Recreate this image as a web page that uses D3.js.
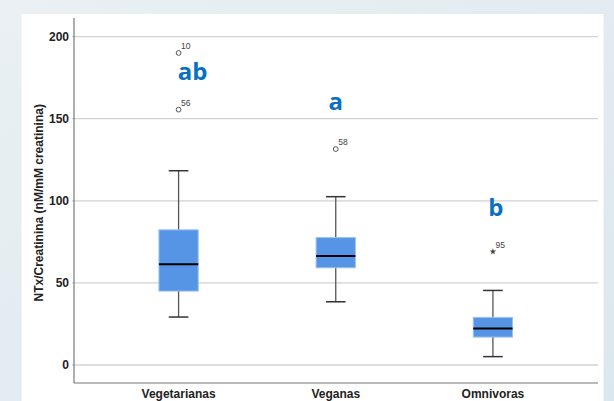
<!DOCTYPE html>
<html>
<head>
<meta charset="utf-8">
<script src="https://cdn.jsdelivr.net/npm/d3@7/dist/d3.min.js"></script>
<style>
  html, body { margin: 0; padding: 0; }
  body { width: 614px; height: 401px; overflow: hidden; }
</style>
</head>
<body>
<svg id="chart" width="614" height="401"></svg>
<script>
// ---- data ----
const categories = ["Vegetarianas", "Veganas", "Omnivoras"];
const whiskerLow  = [29.2, 38.5, 5.1];
const q1          = [45.0, 59.2, 17.0];
const median      = [61.4, 66.3, 22.3];
const q3          = [82.3, 77.6, 29.0];
const whiskerHigh = [118.3, 102.5, 45.4];

const outlierCats   = ["Vegetarianas", "Vegetarianas", "Veganas", "Omnivoras"];
const outlierValues = [190, 155.5, 131.5, 69];
const outlierIds    = ["10", "56", "58", "95"];
const outlierKinds  = ["circle", "circle", "circle", "star"];

const groupLetters      = ["ab", "a", "b"];
const groupLetterValues = [173.5, 155.3, 90.7];

const yTicks = [0, 50, 100, 150, 200];
const yTitle = "NTx/Creatinina (nM/mM creatinina)";

// ---- layout ----
const svg = d3.select("#chart");
const W = 614, H = 401;

const defs = svg.append("defs");
const grad = defs.append("linearGradient").attr("id", "bg").attr("x1", 0).attr("y1", 0).attr("x2", 1).attr("y2", 1);
grad.append("stop").attr("offset", "0%").attr("stop-color", "#eaf0f3");
grad.append("stop").attr("offset", "100%").attr("stop-color", "#dbe7ee");
svg.append("rect").attr("width", W).attr("height", H).attr("fill", "url(#bg)");
svg.append("rect").attr("x", 21.5).attr("y", 14).attr("width", 582).attr("height", H - 14).attr("fill", "#ffffff");

const plotLeft = 74, plotRight = 598, plotTop = 18, plotBottom = 383;

const y = d3.scaleLinear().domain([-10.96, 211.3]).range([plotBottom, plotTop]);
const x = d3.scaleBand().domain(categories).range([100, 571.5]).padding(0);
const cx = c => x(c) + x.bandwidth() / 2;
const boxW = x.bandwidth() * 0.25;
const capW = boxW * 0.5;

// gridlines
svg.append("g").selectAll("line").data(yTicks).join("line")
  .attr("x1", plotLeft - 2).attr("x2", plotRight)
  .attr("y1", d => y(d)).attr("y2", d => y(d))
  .attr("stroke", "#d2d2d2").attr("stroke-width", 1.3);

// y axis
const yAxis = d3.axisLeft(y).tickValues(yTicks).tickSize(0).tickPadding(5);
const gy = svg.append("g").attr("transform", `translate(${plotLeft},0)`).call(yAxis);
gy.select(".domain").remove();
gy.selectAll("text")
  .attr("font-family", "'Liberation Sans Narrow', 'Liberation Sans', Arial, sans-serif")
  .attr("font-weight", "bold").attr("font-size", 12).attr("fill", "#222");

svg.append("line").attr("x1", plotLeft).attr("x2", plotLeft).attr("y1", plotTop).attr("y2", plotBottom)
  .attr("stroke", "#777").attr("stroke-width", 1.2);

// x axis
const xAxis = d3.axisBottom(x).tickSize(0).tickPadding(6);
const gx = svg.append("g").attr("transform", `translate(0,${plotBottom})`).call(xAxis);
gx.select(".domain").remove();
gx.selectAll("text")
  .attr("font-family", "'Liberation Sans Narrow', 'Liberation Sans', Arial, sans-serif")
  .attr("font-weight", "bold").attr("font-size", 12).attr("fill", "#222");
svg.append("line").attr("x1", plotLeft).attr("x2", plotRight).attr("y1", plotBottom).attr("y2", plotBottom)
  .attr("stroke", "#777").attr("stroke-width", 1.2);

// y title
svg.append("text")
  .attr("transform", `translate(43,${(y(0) + y(200)) / 2 + 2}) rotate(-90)`)
  .attr("text-anchor", "middle")
  .attr("font-family", "'Liberation Sans', Arial, sans-serif")
  .attr("font-weight", "bold").attr("font-size", 12).attr("fill", "#222")
  .text(yTitle);

// boxes
const boxes = categories.map((c, i) => ({ c, lo: whiskerLow[i], q1: q1[i], med: median[i], q3: q3[i], hi: whiskerHigh[i] }));
const gb = svg.append("g");
gb.selectAll("line.stem").data(boxes).join("line").attr("class", "stem")
  .attr("x1", d => cx(d.c)).attr("x2", d => cx(d.c))
  .attr("y1", d => y(d.hi)).attr("y2", d => y(d.lo))
  .attr("stroke", "#555").attr("stroke-width", 1.3);
["hi", "lo"].forEach(k => {
  gb.selectAll("line.cap" + k).data(boxes).join("line").attr("class", "cap" + k)
    .attr("x1", d => cx(d.c) - capW / 2).attr("x2", d => cx(d.c) + capW / 2)
    .attr("y1", d => y(d[k])).attr("y2", d => y(d[k]))
    .attr("stroke", "#333").attr("stroke-width", 1.5);
});
gb.selectAll("rect").data(boxes).join("rect")
  .attr("x", d => cx(d.c) - boxW / 2).attr("width", boxW)
  .attr("y", d => y(d.q3)).attr("height", d => y(d.q1) - y(d.q3))
  .attr("fill", "#5695e5").attr("stroke", "#9cc2f0").attr("stroke-width", 1);
gb.selectAll("line.med").data(boxes).join("line").attr("class", "med")
  .attr("x1", d => cx(d.c) - boxW / 2).attr("x2", d => cx(d.c) + boxW / 2)
  .attr("y1", d => y(d.med)).attr("y2", d => y(d.med))
  .attr("stroke", "#000").attr("stroke-width", 2);

// outliers
const outs = outlierValues.map((v, i) => ({ c: outlierCats[i], v, id: outlierIds[i], k: outlierKinds[i] }));
const go = svg.append("g");
go.selectAll("circle").data(outs.filter(d => d.k === "circle")).join("circle")
  .attr("cx", d => cx(d.c)).attr("cy", d => y(d.v)).attr("r", 2.4)
  .attr("fill", "none").attr("stroke", "#555").attr("stroke-width", 1);
go.selectAll("path").data(outs.filter(d => d.k === "star")).join("path")
  .attr("transform", d => `translate(${cx(d.c)},${y(d.v)})`)
  .attr("d", d3.symbol().type(d3.symbolStar).size(14))
  .attr("fill", "#444");
go.selectAll("text").data(outs).join("text")
  .attr("x", d => cx(d.c) + 2.5).attr("y", d => y(d.v) - 4)
  .attr("font-family", "'Liberation Sans Narrow', 'Liberation Sans', Arial, sans-serif")
  .attr("font-size", 8.5).attr("fill", "#444")
  .text(d => d.id);

// group letters
const letterDx = [14, 0, 3];
svg.append("g").selectAll("text").data(groupLetters).join("text")
  .attr("x", (d, i) => cx(categories[i]) + letterDx[i])
  .attr("y", (d, i) => y(groupLetterValues[i]))
  .attr("text-anchor", "middle")
  .attr("font-family", "'Open Sans', Lato, sans-serif")
  .attr("font-weight", "bold").attr("font-size", 24).attr("fill", "#0a70c2")
  .text(d => d);
</script>
</body>
</html>
